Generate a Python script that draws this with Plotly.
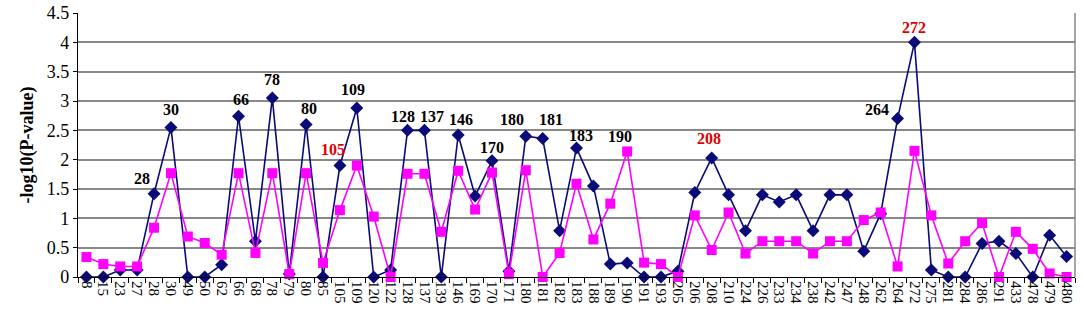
import plotly.graph_objects as go

categories = ["8", "15", "23", "27", "28", "30", "49", "50", "62", "66", "68", "78", "79", "80", "85",
              "105", "109", "120", "122", "128", "137", "139", "146", "169", "170", "171", "180", "181",
              "182", "183", "188", "189", "190", "191", "193", "205", "206", "208", "210", "224", "226",
              "233", "234", "238", "242", "247", "248", "262", "264", "272", "275", "281", "284", "286",
              "291", "433", "478", "479", "480"]

series_blue = [0, 0, 0.12, 0.12, 1.42, 2.55, 0, 0, 0.21, 2.74, 0.61, 3.05, 0.05, 2.6, 0,
               1.9, 2.88, 0, 0.12, 2.5, 2.5, 0, 2.42, 1.38, 1.98, 0.1, 2.4, 2.36,
               0.79, 2.2, 1.55, 0.22, 0.24, 0, 0, 0.1, 1.44, 2.03, 1.4, 0.79, 1.4,
               1.28, 1.4, 0.79, 1.4, 1.4, 0.44, 1.08, 2.7, 4.0, 0.12, 0, 0, 0.57,
               0.61, 0.4, 0, 0.71, 0.35]

series_pink = [0.34, 0.22, 0.18, 0.18, 0.84, 1.77, 0.69, 0.58, 0.38, 1.77, 0.41, 1.77, 0.05, 1.77, 0.24,
               1.14, 1.9, 1.03, 0, 1.76, 1.76, 0.77, 1.81, 1.15, 1.78, 0.05, 1.82, 0,
               0.41, 1.59, 0.64, 1.25, 2.14, 0.245, 0.22, 0, 1.05, 0.46, 1.1, 0.4, 0.61,
               0.61, 0.61, 0.4, 0.61, 0.61, 0.97, 1.1, 0.18, 2.15, 1.05, 0.23, 0.61, 0.92,
               0, 0.77, 0.48, 0.06, 0]

y_ticks = [0, 0.5, 1, 1.5, 2, 2.5, 3, 3.5, 4, 4.5]
y_tick_labels = ["0", "0.5", "1", "1.5", "2", "2.5", "3", "3.5", "4", "4.5"]

label_cats = ["28", "30", "66", "78", "80", "105", "109", "128", "137", "146", "170", "180",
              "181", "183", "190", "208", "264", "272"]
label_red = {"105", "208", "272"}
label_on_pink = {"190"}
# (xshift, yshift) in pixels
label_offsets = {"28": (-12, 11), "30": (0, 14), "66": (2, 13), "78": (0, 15), "80": (3, 12),
                 "105": (-7, 12), "109": (-4, 15), "128": (-5, 10), "137": (8, 10), "146": (3, 12),
                 "170": (0, 9), "180": (-14, 13), "181": (8, 15), "183": (4, 8), "190": (-7, 11),
                 "208": (-3, 15), "264": (-21, 5), "272": (0, 11)}

NAVY = "#0a0a78"
MAGENTA = "#ff00ff"
SERIF = "Liberation Serif, Times New Roman, serif"

fig = go.Figure()
fig.add_trace(go.Scatter(x=categories, y=series_blue, mode="lines+markers",
                         line=dict(color=NAVY, width=1.6),
                         marker=dict(symbol="diamond", size=10, color=NAVY),
                         cliponaxis=False, showlegend=False))
fig.add_trace(go.Scatter(x=categories, y=series_pink, mode="lines+markers",
                         line=dict(color=MAGENTA, width=1.6),
                         marker=dict(symbol="square", size=10, color=MAGENTA),
                         cliponaxis=False, showlegend=False))

for c in label_cats:
    i = categories.index(c)
    yv = series_pink[i] if c in label_on_pink else series_blue[i]
    dx, dy = label_offsets[c]
    fig.add_annotation(x=i, y=yv, text="<b>%s</b>" % c, showarrow=False,
                       xshift=dx, yshift=dy + 4,
                       font=dict(family=SERIF, size=16,
                                 color="#e00000" if c in label_red else "#000000"))

fig.update_layout(
    width=1084, height=322,
    margin=dict(l=78, r=9, t=13, b=45),
    paper_bgcolor="white", plot_bgcolor="white",
    font=dict(family=SERIF, color="black"),
)
fig.update_xaxes(type="category", range=[-0.5, len(categories) - 0.5],
                 tickmode="linear", tick0=0, dtick=1, automargin=False,
                 tickangle=90, tickfont=dict(family=SERIF, size=15),
                 ticks="outside", tickson="boundaries", ticklen=5, tickcolor="black",
                 showline=True, linecolor="black", linewidth=1.2,
                 showgrid=False, mirror=False)
fig.update_yaxes(range=[0, 4.5], tickvals=y_ticks, ticktext=y_tick_labels, automargin=False,
                 tickfont=dict(family=SERIF, size=18),
                 showgrid=True, gridcolor="#888888", gridwidth=1.5,
                 showline=True, linecolor="black", linewidth=1.2,
                 ticks="outside", ticklen=4, tickcolor="black",
                 title=dict(text="<b>-log10(P-value)</b>", font=dict(family=SERIF, size=18), standoff=8),
                 zeroline=False)
# right border of the plot area
fig.add_shape(type="line", xref="paper", yref="paper", x0=1, x1=1, y0=0, y1=1,
              line=dict(color="#888888", width=1.5))

fig.write_html("out.html", config={"displayModeBar": False},
               post_script="document.body.style.margin='0';document.body.style.overflow='hidden';")
